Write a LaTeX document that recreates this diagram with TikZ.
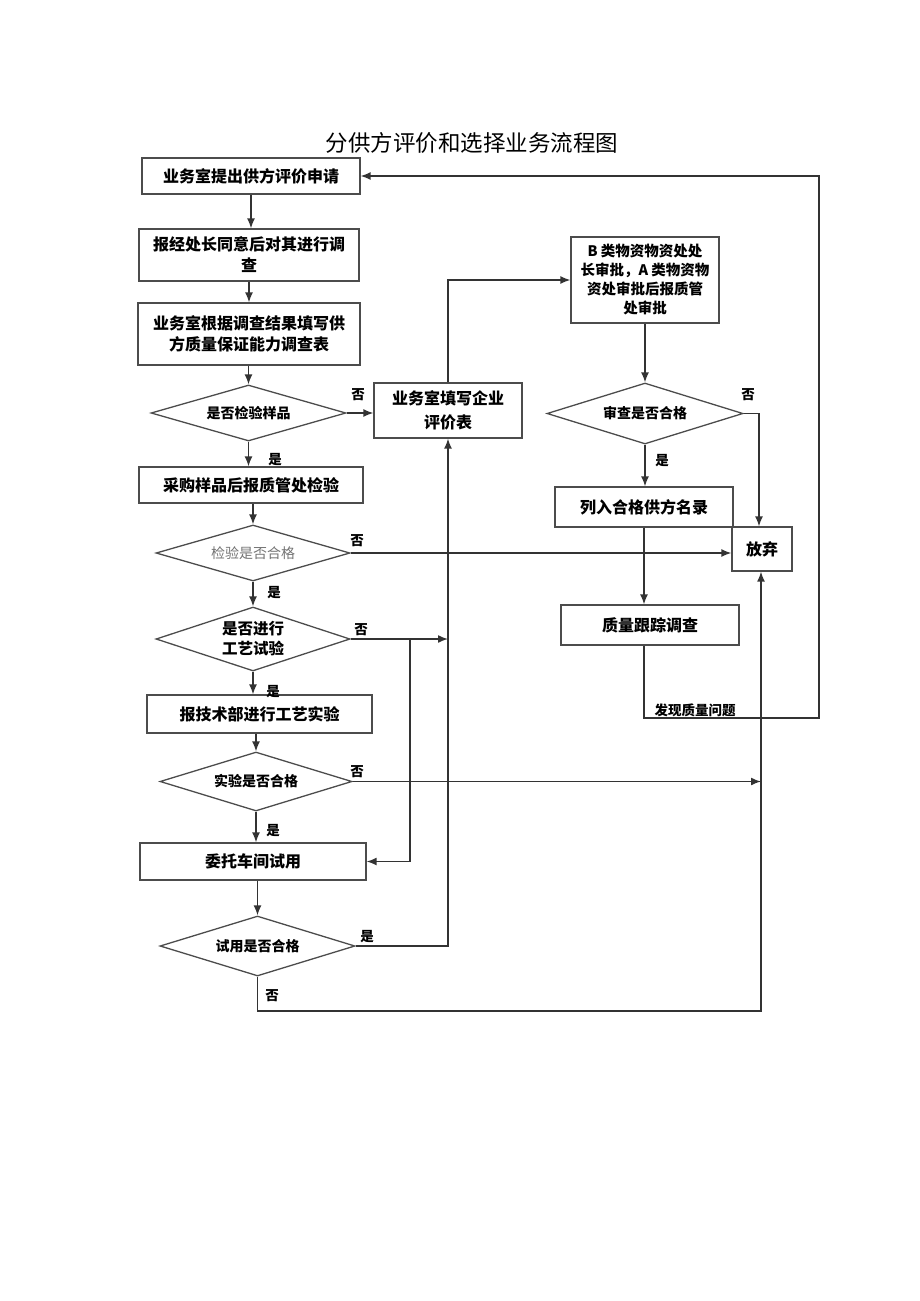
\documentclass[tikz,border=0pt]{standalone}
\usepackage{fontspec}
\setmainfont{Noto Sans CJK SC}
\usetikzlibrary{shapes.geometric,arrows.meta}

\begin{document}
\begin{tikzpicture}[x=1pt, y=-1pt, >={Latex[length=10pt,width=8pt]}]
			\tikzstyle{Box} 	= [rectangle, draw=black!70, line width=1.3pt, inner sep=0pt, align=center, font=\bfseries\fontsize{16}{21}\selectfont]
			\tikzstyle{Choice}	= [diamond, aspect=3.4, draw=black!70, line width=1.3pt, inner sep=0pt, align=center, font=\bfseries\fontsize{14}{20}\selectfont]
			\tikzstyle{Tag}		= [inner sep=0pt, font=\bfseries\fontsize{13.5}{14}\selectfont]
			\tikzstyle{Flow}	= [line width=1.5pt, black!80]

			\useasboundingbox (0,0) rectangle (920,1301);

			\node (title) at (472, 143) [font=\fontsize{22.5}{24}\selectfont] {分供方评价和选择业务流程图};

			% left column
			\node (apply) at (251, 176) [Box, minimum width=218pt, minimum height=36pt] {业务室提出供方评价申请};
			\node (agree) at (249, 255) [Box, minimum width=220pt, minimum height=52pt] {报经处长同意后对其进行调\\查};
			\node (fill) at (249, 334) [Box, minimum width=222pt, minimum height=62pt] {业务室根据调查结果填写供\\方质量保证能力调查表};
			\node (qsample) at (248.5, 413) [Choice, minimum width=195pt, minimum height=56pt] {是否检验样品};
			\node (buy) at (251, 485) [Box, minimum width=224pt, minimum height=36pt] {采购样品后报质管处检验};
			\node (qinspect) at (253, 553) [Choice, minimum width=194pt, minimum height=56pt, font=\fontsize{14}{20}\selectfont, text=black!55] {检验是否合格};
			\node (qtrial) at (253, 639) [Choice, minimum width=194pt, minimum height=64pt, font=\bfseries\fontsize{15.5}{20}\selectfont] {是否进行\\工艺试验};
			\node (tech) at (259.5, 714) [Box, minimum width=225pt, minimum height=38pt] {报技术部进行工艺实验};
			\node (qtest) at (256, 781.5) [Choice, minimum width=192pt, minimum height=59pt] {实验是否合格};
			\node (workshop) at (253, 861.5) [Box, minimum width=226pt, minimum height=37pt] {委托车间试用};
			\node (quse) at (257.5, 946) [Choice, minimum width=195pt, minimum height=60pt] {试用是否合格};

			% middle and right
			\node (evalform) at (448, 410.5) [Box, minimum width=148pt, minimum height=55pt, font=\bfseries\fontsize{16}{24}\selectfont] {业务室填写企业\\评价表};
			\node (approve) at (645, 280) [Box, minimum width=148pt, minimum height=86pt, font=\bfseries\fontsize{14.5}{19}\selectfont] {B 类物资物资处处\\长审批，A 类物资物\\资处审批后报质管\\处审批};
			\node (qcheck) at (645, 413.5) [Choice, minimum width=196pt, minimum height=61pt] {审查是否合格};
			\node (listed) at (644, 507) [Box, minimum width=178pt, minimum height=40pt] {列入合格供方名录};
			\node (abandon) at (762, 549) [Box, minimum width=60pt, minimum height=44pt] {放弃};
			\node (track) at (650, 625) [Box, minimum width=178pt, minimum height=40pt] {质量跟踪调查};

			\coordinate (split) at (410, 639);
			\coordinate (evalline) at (448, 639);
			\coordinate (dropline) at (761, 781.5);
			\coordinate (loopturn) at (819, 718);
			\coordinate (bottomturn) at (761, 1011);

			\draw [->, Flow] (apply.south) to (apply.south |- agree.north);
			\draw [->, Flow] (agree.south) to (agree.south |- fill.north);
			\draw [->, Flow] (fill.south -| qsample.north) to (qsample.north);
			\draw [->, Flow] (qsample.south) to (qsample.south |- buy.north);
			\draw [->, Flow] (buy.south -| qinspect.north) to (qinspect.north);
			\draw [->, Flow] (qinspect.south) to (qtrial.north);
			\draw [->, Flow] (qtrial.south) to (qtrial.south |- tech.north);
			\draw [->, Flow] (tech.south -| qtest.north) to (qtest.north);
			\draw [->, Flow] (qtest.south) to (qtest.south |- workshop.north);
			\draw [->, Flow] (workshop.south -| quse.north) to (quse.north);

			\draw [->, Flow] (qsample.east) to (qsample.east -| evalform.west);
			\draw [->, Flow] (qinspect.east) to (qinspect.east -| abandon.west);
			\draw [->, Flow] (qtrial.east) to (evalline);
			\draw [->, Flow] (split) |- (workshop.east);
			\draw [->, Flow] (qtest.east) to (dropline);
			\draw [->, Flow] (quse.east) -| (evalform.south);
			\draw [->, Flow] (evalform.north) |- (approve.west);
			\draw [->, Flow] (approve.south) to (approve.south |- qcheck.north);
			\draw [->, Flow] (qcheck.east) -| ([xshift=-3pt]abandon.north);
			\draw [->, Flow] (qcheck.south) to (qcheck.south |- listed.north);
			\draw [->, Flow] (listed.south) to (listed.south |- track.north);
			\draw [->, Flow] ([xshift=-6pt]track.south) |- (loopturn) |- (apply.east);
			\draw [->, Flow] (quse.south) |- (bottomturn) to ([xshift=-1pt]abandon.south);

			% yes / no
			\node (no1) at (358, 395) [Tag] {否};
			\node (yes1) at (275, 460) [Tag] {是};
			\node (no2) at (357, 541) [Tag] {否};
			\node (yes2) at (274, 593) [Tag] {是};
			\node (no3) at (361, 630) [Tag] {否};
			\node (yes3) at (273, 692) [Tag] {是};
			\node (no4) at (357, 772) [Tag] {否};
			\node (yes4) at (273, 831) [Tag] {是};
			\node (yes5) at (367, 937) [Tag] {是};
			\node (no5) at (272, 996) [Tag] {否};
			\node (no6) at (748, 395) [Tag] {否};
			\node (yes6) at (662, 461) [Tag] {是};
			\node (found) at (695, 710) [Tag] {发现质量问题};
		\end{tikzpicture}
\end{document}
